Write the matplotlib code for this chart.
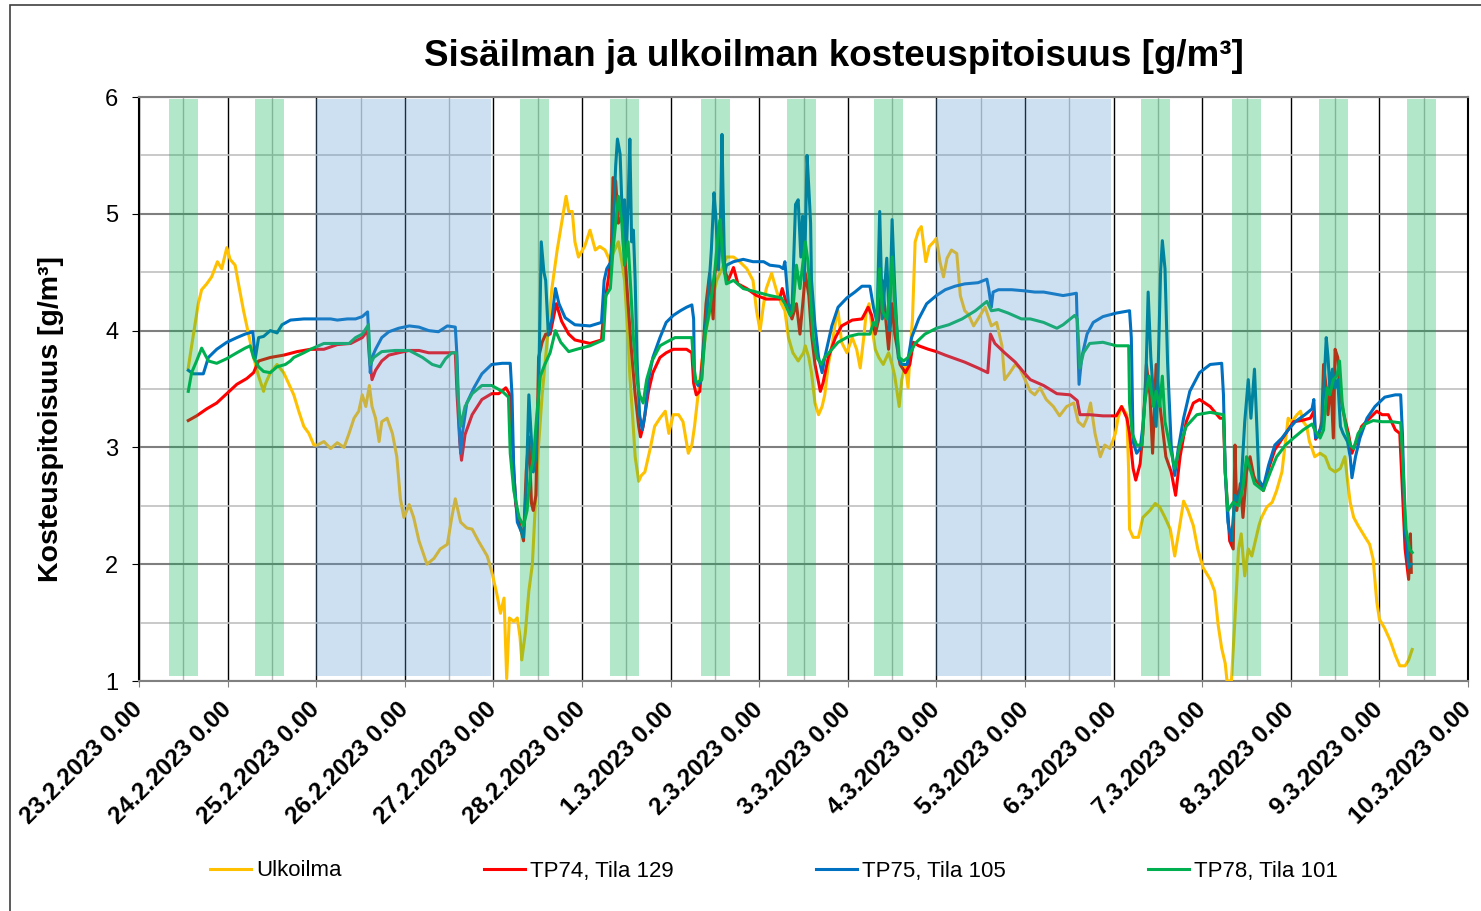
import datetime
import numpy as np
import matplotlib
matplotlib.use('Agg')
import matplotlib.pyplot as plt
from matplotlib.patches import Rectangle

plt.rcParams['font.family'] = ['Liberation Sans', 'DejaVu Sans']

START = datetime.date(2023, 2, 23)
N_DAYS = 15

# working hours (start as day offset from 23.2. 0:00) and weekends
WORK_START = [0.34, 1.31, 4.305, 5.317, 6.345, 7.315, 8.297, 11.308, 12.338, 13.32, 14.31]
WORK_LEN = 0.327
WEEKENDS = [(2.0, 3.97), (9.0, 10.97)]

# (time in days from 23.2.2023 0:00, humidity g/m3)
ULKOILMA = [
    (0.556, 3.68), (0.594, 3.87), (0.669, 4.23), (0.707, 4.35), (0.764, 4.40), (0.820, 4.46),
    (0.885, 4.59), (0.934, 4.53), (0.991, 4.71), (1.028, 4.61), (1.085, 4.56), (1.123, 4.40),
    (1.180, 4.17), (1.236, 3.97), (1.293, 3.77), (1.350, 3.61), (1.406, 3.48), (1.425, 3.54),
    (1.482, 3.64), (1.558, 3.71), (1.633, 3.64), (1.747, 3.45), (1.803, 3.31), (1.860, 3.18),
    (1.917, 3.12), (1.974, 3.02), (2.011, 3.02), (2.087, 3.05), (2.163, 2.99), (2.238, 3.04),
    (2.314, 3.00), (2.371, 3.12), (2.427, 3.25), (2.48, 3.31), (2.52, 3.45), (2.56, 3.35),
    (2.60, 3.53), (2.63, 3.35), (2.67, 3.25), (2.71, 3.05), (2.74, 3.22), (2.80, 3.25),
    (2.86, 3.12), (2.91, 2.92), (2.95, 2.56), (2.99, 2.40), (3.05, 2.51), (3.10, 2.40),
    (3.16, 2.20), (3.25, 2.00), (3.33, 2.05), (3.40, 2.13), (3.48, 2.17), (3.53, 2.40),
    (3.57, 2.56), (3.63, 2.36), (3.70, 2.31), (3.76, 2.30), (3.83, 2.20), (3.93, 2.07),
    (3.98, 1.94), (4.04, 1.74), (4.08, 1.58), (4.12, 1.71), (4.15, 1.02), (4.18, 1.54),
    (4.23, 1.51), (4.27, 1.54), (4.30, 1.38), (4.32, 1.18), (4.36, 1.41), (4.40, 1.77),
    (4.44, 2.00), (4.47, 2.46), (4.51, 3.02), (4.55, 3.45), (4.61, 3.94), (4.66, 4.36),
    (4.72, 4.69), (4.77, 4.92), (4.82, 5.15), (4.85, 5.02), (4.89, 5.02), (4.92, 4.76),
    (4.96, 4.63), (5.03, 4.72), (5.09, 4.86), (5.15, 4.69), (5.20, 4.72), (5.26, 4.69),
    (5.32, 4.59), (5.35, 4.66), (5.41, 4.76), (5.45, 4.59), (5.48, 4.43), (5.52, 3.94),
    (5.54, 3.61), (5.57, 3.28), (5.60, 2.92), (5.64, 2.71), (5.67, 2.76), (5.71, 2.79),
    (5.77, 2.99), (5.82, 3.18), (5.88, 3.25), (5.94, 3.31), (5.98, 3.12), (6.03, 3.28),
    (6.09, 3.28), (6.14, 3.22), (6.20, 2.95), (6.24, 3.02), (6.27, 3.18), (6.31, 3.45),
    (6.35, 3.71), (6.41, 4.04), (6.46, 4.23), (6.52, 4.43), (6.58, 4.53), (6.63, 4.63),
    (6.71, 4.63), (6.78, 4.59), (6.86, 4.53), (6.93, 4.43), (6.97, 4.17), (7.01, 4.00),
    (7.05, 4.23), (7.08, 4.36), (7.14, 4.49), (7.20, 4.33), (7.25, 4.23), (7.29, 4.17),
    (7.33, 3.94), (7.38, 3.81), (7.44, 3.74), (7.50, 3.81), (7.52, 3.87), (7.56, 3.77),
    (7.59, 3.64), (7.63, 3.38), (7.67, 3.28), (7.71, 3.35), (7.74, 3.45), (7.78, 3.71),
    (7.82, 3.87), (7.86, 4.07), (7.89, 4.17), (7.93, 3.90), (7.99, 3.81), (8.05, 3.94),
    (8.10, 3.84), (8.14, 3.68), (8.18, 3.94), (8.21, 4.17), (8.24, 4.23), (8.27, 4.04),
    (8.31, 3.84), (8.35, 3.77), (8.40, 3.71), (8.46, 3.81), (8.50, 3.71), (8.53, 3.61),
    (8.58, 3.35), (8.61, 3.58), (8.65, 3.71), (8.68, 3.51), (8.70, 3.77), (8.73, 4.10),
    (8.76, 4.76), (8.80, 4.86), (8.83, 4.89), (8.88, 4.59), (8.92, 4.72), (8.97, 4.76),
    (9.00, 4.79), (9.04, 4.59), (9.08, 4.46), (9.12, 4.62), (9.17, 4.69), (9.23, 4.66),
    (9.27, 4.30), (9.32, 4.17), (9.36, 4.14), (9.42, 4.04), (9.47, 4.10), (9.55, 4.20),
    (9.62, 4.04), (9.68, 4.07), (9.74, 3.87), (9.77, 3.58), (9.83, 3.64), (9.89, 3.71),
    (9.94, 3.68), (10.00, 3.58), (10.06, 3.48), (10.11, 3.45), (10.17, 3.51), (10.24, 3.41),
    (10.32, 3.35), (10.39, 3.27), (10.47, 3.35), (10.55, 3.38), (10.60, 3.22), (10.66, 3.18),
    (10.70, 3.25), (10.74, 3.38), (10.79, 3.12), (10.85, 2.92), (10.90, 3.02), (10.96, 2.99),
    (11.02, 3.12), (11.05, 3.25), (11.09, 3.35), (11.15, 3.28), (11.17, 2.79), (11.18, 2.30),
    (11.22, 2.23), (11.28, 2.23), (11.33, 2.40), (11.41, 2.46), (11.47, 2.52), (11.52, 2.49),
    (11.58, 2.40), (11.64, 2.30), (11.69, 2.07), (11.74, 2.30), (11.79, 2.54), (11.84, 2.46),
    (11.90, 2.33), (11.95, 2.13), (12.01, 1.97), (12.09, 1.87), (12.14, 1.77), (12.18, 1.48),
    (12.22, 1.28), (12.26, 1.15), (12.28, 1.00), (12.33, 1.00), (12.37, 1.54), (12.41, 2.13),
    (12.44, 2.26), (12.48, 1.90), (12.52, 2.13), (12.56, 2.07), (12.60, 2.20), (12.64, 2.33),
    (12.67, 2.40), (12.73, 2.49), (12.79, 2.53), (12.84, 2.63), (12.90, 2.79), (12.94, 3.05),
    (12.97, 3.25), (13.01, 3.22), (13.07, 3.28), (13.11, 3.31), (13.14, 3.22), (13.18, 3.18),
    (13.21, 3.05), (13.24, 2.99), (13.27, 2.92), (13.33, 2.95), (13.39, 2.92), (13.44, 2.82),
    (13.50, 2.79), (13.56, 2.82), (13.61, 2.92), (13.64, 2.72), (13.67, 2.53), (13.71, 2.40),
    (13.76, 2.33), (13.84, 2.23), (13.89, 2.17), (13.93, 2.04), (13.97, 1.68), (14.00, 1.53),
    (14.06, 1.45), (14.12, 1.35), (14.18, 1.22), (14.23, 1.13), (14.29, 1.13), (14.33, 1.18),
    (14.37, 1.27),
]

TP74 = [
    (0.556, 3.23), (0.65, 3.27), (0.764, 3.33), (0.877, 3.38), (0.991, 3.46), (1.104, 3.54),
    (1.217, 3.59), (1.293, 3.64), (1.35, 3.74), (1.482, 3.77), (1.633, 3.79), (1.784, 3.82),
    (1.936, 3.84), (2.087, 3.84), (2.238, 3.88), (2.39, 3.89), (2.52, 3.94), (2.58, 4.00),
    (2.60, 3.77), (2.63, 3.58), (2.67, 3.66), (2.74, 3.74), (2.82, 3.79), (2.93, 3.81),
    (3.05, 3.83), (3.16, 3.83), (3.27, 3.81), (3.38, 3.81), (3.50, 3.81), (3.57, 3.81),
    (3.59, 3.45), (3.62, 3.05), (3.64, 2.89), (3.68, 3.11), (3.76, 3.28), (3.87, 3.41),
    (3.98, 3.46), (4.06, 3.46), (4.14, 3.51), (4.18, 3.46), (4.21, 3.11), (4.25, 2.52),
    (4.30, 2.33), (4.34, 2.20), (4.37, 2.79), (4.40, 3.09), (4.43, 2.52), (4.45, 2.46),
    (4.48, 2.59), (4.51, 3.77), (4.55, 3.90), (4.59, 3.97), (4.64, 3.97), (4.71, 4.23),
    (4.77, 4.08), (4.85, 3.97), (4.92, 3.92), (5.09, 3.89), (5.22, 3.92), (5.25, 4.20),
    (5.30, 4.46), (5.33, 4.66), (5.35, 5.31), (5.38, 5.28), (5.41, 4.92), (5.45, 4.98),
    (5.48, 4.69), (5.52, 4.23), (5.56, 3.81), (5.60, 3.45), (5.64, 3.18), (5.66, 3.09),
    (5.69, 3.18), (5.75, 3.48), (5.80, 3.64), (5.88, 3.77), (5.95, 3.81), (6.03, 3.84),
    (6.11, 3.84), (6.18, 3.84), (6.24, 3.81), (6.26, 3.55), (6.29, 3.45), (6.33, 3.48),
    (6.36, 3.77), (6.40, 4.23), (6.44, 4.49), (6.48, 4.10), (6.50, 4.49), (6.54, 4.66),
    (6.58, 4.98), (6.61, 4.52), (6.65, 4.43), (6.71, 4.54), (6.76, 4.40), (6.86, 4.36),
    (6.97, 4.30), (7.08, 4.27), (7.23, 4.27), (7.26, 4.36), (7.31, 4.23), (7.37, 4.10),
    (7.42, 4.23), (7.46, 3.97), (7.50, 4.30), (7.52, 4.49), (7.56, 4.30), (7.59, 3.97),
    (7.63, 3.71), (7.69, 3.48), (7.72, 3.55), (7.78, 3.77), (7.86, 3.94), (7.93, 4.04),
    (8.05, 4.09), (8.16, 4.10), (8.23, 4.20), (8.27, 4.13), (8.31, 3.97), (8.35, 4.10),
    (8.39, 4.43), (8.42, 4.17), (8.46, 3.84), (8.50, 4.23), (8.53, 3.97), (8.59, 3.71),
    (8.65, 3.64), (8.70, 3.71), (8.74, 3.90), (8.80, 3.87), (8.91, 3.84), (9.00, 3.82),
    (9.10, 3.79), (9.21, 3.76), (9.32, 3.73), (9.47, 3.68), (9.58, 3.64), (9.61, 3.97),
    (9.66, 3.89), (9.77, 3.81), (9.89, 3.73), (10.00, 3.63), (10.06, 3.58), (10.21, 3.53),
    (10.36, 3.46), (10.51, 3.45), (10.59, 3.40), (10.62, 3.28), (10.73, 3.28), (10.88, 3.27),
    (11.03, 3.27), (11.09, 3.35), (11.15, 3.25), (11.18, 3.12), (11.22, 2.82), (11.25, 2.72),
    (11.30, 2.86), (11.33, 3.12), (11.37, 3.71), (11.41, 3.45), (11.44, 2.95), (11.48, 3.71),
    (11.52, 3.38), (11.56, 3.12), (11.59, 2.92), (11.65, 2.79), (11.70, 2.59), (11.75, 2.92),
    (11.82, 3.22), (11.90, 3.38), (11.97, 3.41), (12.09, 3.35), (12.20, 3.25), (12.24, 3.25),
    (12.26, 2.79), (12.31, 2.20), (12.35, 2.13), (12.37, 3.02), (12.39, 2.46), (12.43, 2.69),
    (12.46, 2.40), (12.50, 2.79), (12.54, 2.92), (12.58, 2.76), (12.60, 2.72), (12.64, 2.69),
    (12.69, 2.63), (12.75, 2.82), (12.82, 2.98), (12.90, 3.07), (12.97, 3.15), (13.03, 3.22),
    (13.12, 3.23), (13.22, 3.25), (13.26, 3.31), (13.28, 3.07), (13.32, 3.12), (13.35, 3.22),
    (13.37, 3.71), (13.40, 3.51), (13.42, 3.28), (13.45, 3.61), (13.48, 3.08), (13.50, 3.84),
    (13.53, 3.77), (13.56, 3.45), (13.59, 3.31), (13.65, 3.12), (13.69, 2.95), (13.74, 3.05),
    (13.80, 3.18), (13.89, 3.25), (13.97, 3.31), (14.03, 3.28), (14.10, 3.28), (14.18, 3.15),
    (14.23, 3.12), (14.25, 2.79), (14.29, 2.13), (14.33, 1.87), (14.35, 2.26), (14.36, 1.93),
]

TP75 = [
    (0.556, 3.66), (0.612, 3.63), (0.726, 3.63), (0.783, 3.77), (0.877, 3.84), (0.991, 3.90),
    (1.104, 3.94), (1.198, 3.97), (1.285, 3.99), (1.312, 3.76), (1.35, 3.94), (1.406, 3.95),
    (1.482, 4.00), (1.558, 3.98), (1.614, 4.05), (1.709, 4.09), (1.860, 4.10), (2.011, 4.10),
    (2.163, 4.10), (2.238, 4.09), (2.352, 4.10), (2.444, 4.10), (2.52, 4.12), (2.58, 4.16),
    (2.59, 4.00), (2.61, 3.64), (2.63, 3.77), (2.67, 3.84), (2.74, 3.94), (2.82, 3.99),
    (2.93, 4.02), (3.05, 4.04), (3.16, 4.03), (3.27, 4.00), (3.38, 3.99), (3.44, 4.02),
    (3.48, 4.04), (3.57, 4.03), (3.59, 3.77), (3.61, 3.25), (3.63, 2.95), (3.65, 3.12),
    (3.70, 3.38), (3.78, 3.51), (3.87, 3.63), (3.98, 3.71), (4.10, 3.72), (4.19, 3.72),
    (4.21, 3.45), (4.23, 2.79), (4.27, 2.36), (4.32, 2.27), (4.34, 2.23), (4.37, 2.63),
    (4.40, 3.45), (4.42, 3.19), (4.45, 2.79), (4.48, 2.92), (4.51, 3.45), (4.54, 4.76),
    (4.57, 4.50), (4.59, 4.43), (4.62, 3.96), (4.66, 4.10), (4.70, 4.36), (4.74, 4.23),
    (4.81, 4.11), (4.92, 4.05), (5.09, 4.04), (5.22, 4.07), (5.25, 4.43), (5.28, 4.53),
    (5.32, 4.58), (5.35, 4.82), (5.38, 5.41), (5.40, 5.64), (5.43, 5.51), (5.45, 5.08),
    (5.47, 4.69), (5.48, 5.12), (5.50, 4.66), (5.52, 5.08), (5.54, 5.64), (5.56, 4.76),
    (5.58, 4.86), (5.60, 4.43), (5.62, 3.77), (5.65, 3.28), (5.68, 3.15), (5.71, 3.28),
    (5.75, 3.58), (5.80, 3.77), (5.88, 3.94), (5.95, 4.07), (6.03, 4.13), (6.11, 4.17),
    (6.18, 4.20), (6.24, 4.22), (6.26, 4.10), (6.27, 3.58), (6.31, 3.53), (6.35, 3.58),
    (6.38, 3.94), (6.42, 4.23), (6.46, 4.69), (6.49, 5.18), (6.51, 4.98), (6.54, 4.52),
    (6.56, 4.82), (6.58, 5.68), (6.59, 5.25), (6.61, 4.49), (6.63, 4.56), (6.71, 4.59),
    (6.82, 4.61), (6.93, 4.59), (7.05, 4.59), (7.12, 4.56), (7.23, 4.55), (7.27, 4.53),
    (7.29, 4.59), (7.33, 4.23), (7.37, 4.17), (7.41, 5.08), (7.44, 5.12), (7.47, 4.63),
    (7.49, 4.98), (7.51, 4.43), (7.54, 5.50), (7.56, 5.22), (7.58, 4.92), (7.59, 4.43),
    (7.63, 4.04), (7.67, 3.77), (7.71, 3.64), (7.74, 3.77), (7.82, 4.04), (7.89, 4.20),
    (7.99, 4.28), (8.08, 4.33), (8.16, 4.38), (8.25, 4.38), (8.29, 4.20), (8.33, 4.07),
    (8.36, 5.02), (8.39, 4.10), (8.44, 4.62), (8.47, 4.00), (8.50, 4.95), (8.53, 4.36),
    (8.57, 3.77), (8.61, 3.71), (8.67, 3.71), (8.72, 3.94), (8.80, 4.10), (8.89, 4.23),
    (9.00, 4.30), (9.10, 4.35), (9.21, 4.38), (9.32, 4.40), (9.47, 4.41), (9.57, 4.44),
    (9.59, 4.36), (9.62, 4.20), (9.64, 4.33), (9.70, 4.35), (9.85, 4.35), (10.00, 4.34),
    (10.11, 4.33), (10.21, 4.33), (10.36, 4.31), (10.43, 4.30), (10.51, 4.31), (10.58, 4.32),
    (10.59, 4.04), (10.61, 3.54), (10.64, 3.77), (10.70, 3.97), (10.77, 4.07), (10.88, 4.12),
    (11.03, 4.15), (11.18, 4.17), (11.20, 3.94), (11.22, 3.05), (11.26, 2.95), (11.30, 2.99),
    (11.33, 3.18), (11.36, 3.45), (11.39, 4.33), (11.42, 3.77), (11.45, 3.45), (11.48, 3.18),
    (11.50, 3.58), (11.53, 4.50), (11.55, 4.77), (11.58, 4.53), (11.61, 3.71), (11.65, 3.02),
    (11.69, 2.76), (11.73, 2.99), (11.79, 3.25), (11.86, 3.48), (11.97, 3.64), (12.09, 3.71),
    (12.22, 3.72), (12.24, 3.45), (12.26, 2.79), (12.29, 2.36), (12.33, 2.20), (12.37, 2.59),
    (12.41, 2.53), (12.44, 2.69), (12.48, 3.22), (12.52, 3.58), (12.55, 3.25), (12.59, 3.67),
    (12.62, 3.12), (12.64, 2.72), (12.69, 2.66), (12.75, 2.85), (12.82, 3.02), (12.90, 3.08),
    (12.97, 3.15), (13.05, 3.22), (13.16, 3.28), (13.24, 3.33), (13.26, 3.41), (13.28, 3.08),
    (13.31, 3.12), (13.35, 3.18), (13.37, 3.45), (13.40, 3.94), (13.42, 3.77), (13.44, 3.51),
    (13.47, 3.67), (13.50, 3.51), (13.53, 3.58), (13.56, 3.18), (13.59, 3.12), (13.64, 3.05),
    (13.67, 2.92), (13.69, 2.74), (13.73, 2.92), (13.78, 3.08), (13.86, 3.25), (13.95, 3.35),
    (14.06, 3.43), (14.18, 3.45), (14.24, 3.45), (14.26, 3.12), (14.29, 2.30), (14.33, 1.97),
    (14.36, 2.00),
]

TP78 = [
    (0.556, 3.48), (0.594, 3.64), (0.650, 3.74), (0.707, 3.85), (0.783, 3.74), (0.877, 3.72),
    (0.991, 3.76), (1.104, 3.81), (1.198, 3.85), (1.255, 3.87), (1.293, 3.77), (1.350, 3.69),
    (1.406, 3.65), (1.482, 3.64), (1.558, 3.69), (1.652, 3.71), (1.709, 3.74), (1.747, 3.77),
    (1.860, 3.81), (1.936, 3.84), (2.087, 3.89), (2.238, 3.89), (2.371, 3.89), (2.444, 3.94),
    (2.52, 3.97), (2.59, 4.05), (2.61, 3.71), (2.65, 3.77), (2.74, 3.82), (2.89, 3.83),
    (3.05, 3.83), (3.20, 3.77), (3.31, 3.71), (3.40, 3.69), (3.46, 3.76), (3.53, 3.81),
    (3.58, 3.81), (3.60, 3.45), (3.63, 3.18), (3.68, 3.35), (3.76, 3.46), (3.87, 3.53),
    (3.98, 3.53), (4.10, 3.48), (4.17, 3.43), (4.19, 2.95), (4.23, 2.63), (4.29, 2.40),
    (4.34, 2.33), (4.38, 2.46), (4.42, 2.79), (4.45, 2.89), (4.49, 3.28), (4.53, 3.61),
    (4.58, 3.71), (4.64, 3.81), (4.70, 4.00), (4.76, 3.90), (4.85, 3.82), (4.94, 3.84),
    (5.09, 3.87), (5.24, 3.92), (5.27, 4.30), (5.32, 4.36), (5.35, 4.69), (5.41, 5.15),
    (5.45, 4.92), (5.48, 4.56), (5.52, 4.76), (5.55, 4.36), (5.58, 3.94), (5.62, 3.58),
    (5.65, 3.45), (5.69, 3.38), (5.73, 3.58), (5.79, 3.74), (5.88, 3.87), (5.95, 3.90),
    (6.05, 3.94), (6.14, 3.94), (6.24, 3.94), (6.26, 3.71), (6.29, 3.55), (6.35, 3.58),
    (6.39, 3.97), (6.44, 4.17), (6.50, 4.52), (6.54, 4.86), (6.56, 4.95), (6.59, 4.59),
    (6.63, 4.40), (6.71, 4.43), (6.82, 4.36), (6.97, 4.33), (7.12, 4.30), (7.25, 4.28),
    (7.29, 4.23), (7.35, 4.13), (7.38, 4.17), (7.42, 4.56), (7.46, 4.36), (7.50, 4.63),
    (7.52, 4.76), (7.55, 4.59), (7.58, 4.27), (7.61, 3.94), (7.65, 3.77), (7.70, 3.71),
    (7.74, 3.77), (7.82, 3.84), (7.89, 3.90), (8.01, 3.95), (8.12, 3.97), (8.25, 3.97),
    (8.29, 4.07), (8.32, 4.04), (8.36, 4.53), (8.39, 4.17), (8.44, 4.10), (8.48, 4.36),
    (8.50, 4.63), (8.53, 4.23), (8.58, 3.77), (8.63, 3.74), (8.68, 3.77), (8.76, 3.89),
    (8.87, 3.97), (9.00, 4.02), (9.14, 4.05), (9.29, 4.10), (9.44, 4.17), (9.57, 4.25),
    (9.62, 4.17), (9.70, 4.18), (9.81, 4.15), (9.96, 4.10), (10.06, 4.10), (10.21, 4.07),
    (10.36, 4.02), (10.43, 4.05), (10.56, 4.13), (10.59, 4.10), (10.62, 3.68), (10.66, 3.81),
    (10.73, 3.89), (10.88, 3.90), (11.03, 3.87), (11.17, 3.87), (11.18, 3.38), (11.21, 3.12),
    (11.26, 3.02), (11.32, 3.02), (11.35, 3.38), (11.40, 3.61), (11.45, 3.35), (11.48, 3.48),
    (11.52, 3.35), (11.55, 3.61), (11.58, 3.22), (11.64, 2.99), (11.69, 2.82), (11.75, 3.02),
    (11.82, 3.18), (11.94, 3.28), (12.09, 3.30), (12.24, 3.28), (12.26, 2.79), (12.29, 2.46),
    (12.35, 2.53), (12.41, 2.50), (12.46, 2.66), (12.50, 2.92), (12.54, 2.82), (12.59, 2.69),
    (12.69, 2.63), (12.77, 2.79), (12.84, 2.92), (12.94, 3.02), (13.03, 3.08), (13.14, 3.15),
    (13.24, 3.20), (13.27, 3.15), (13.33, 3.08), (13.37, 3.15), (13.41, 3.51), (13.44, 3.45),
    (13.48, 3.58), (13.52, 3.61), (13.55, 3.74), (13.58, 3.38), (13.62, 3.18), (13.67, 3.02),
    (13.71, 2.99), (13.76, 3.12), (13.84, 3.20), (13.93, 3.23), (14.03, 3.22), (14.14, 3.22),
    (14.24, 3.21), (14.27, 2.79), (14.30, 2.30), (14.34, 2.13), (14.37, 2.10),
]

NAMES = ['Ulkoilma', 'TP74, Tila 129', 'TP75, Tila 105', 'TP78, Tila 101']
COLORS = ['#FFC000', '#FF0000', '#0070C0', '#00B050']

fig = plt.figure(figsize=(14.81, 9.11), dpi=100)
ax = fig.add_axes([139 / 1481, 1 - 681 / 911, 1329 / 1481, 584 / 911])

lines = []
for name, data, col in zip(NAMES, [ULKOILMA, TP74, TP75, TP78], COLORS):
    t, v = zip(*data)
    ln, = ax.plot(t, v, color=col, lw=2.2, label=name, zorder=3)
    lines.append(ln)

# shaded working hours and weekends on top of the lines
for s in WORK_START:
    ax.axvspan(s, s + WORK_LEN, ymin=0.008, ymax=0.996, color='#00B050',
               alpha=0.3, lw=0, zorder=4)
for a, b in WEEKENDS:
    ax.axvspan(a, b, ymin=0.008, ymax=0.996, color='#5B9BD5',
               alpha=0.3, lw=0, zorder=4)

ax.set_xlim(0, N_DAYS)
ax.set_ylim(1, 6)
ax.set_xticks(range(N_DAYS + 1))
ax.set_xticks(np.arange(0.5, N_DAYS, 1), minor=True)
ax.set_yticks(range(1, 7))
ax.set_yticks(np.arange(1.5, 6, 1), minor=True)

labels = []
for i in range(N_DAYS + 1):
    d = START + datetime.timedelta(days=i)
    labels.append('%d.%d.%d 0.00' % (d.day, d.month, d.year))
ax.set_xticklabels(labels, rotation=45, ha='right', va='center',
                   rotation_mode='anchor', fontsize=17.5, fontweight='bold')
ax.tick_params(axis='x', which='major', length=4, pad=14, color='#808080')
ax.tick_params(axis='x', which='minor', length=0)
ax.tick_params(axis='y', which='major', length=5, pad=10, labelsize=17)
ax.tick_params(axis='y', which='minor', length=0)

ax.grid(which='major', axis='x', color='black', lw=1.0)
ax.grid(which='minor', axis='x', color='#b8b8b8', lw=1.0)
ax.grid(which='major', axis='y', color='#7f7f7f', lw=1.5)
ax.grid(which='minor', axis='y', color='#c0c0c0', lw=1.2)

ax.spines['left'].set_color('black')
ax.spines['left'].set_linewidth(1.5)
ax.spines['right'].set_color('black')
ax.spines['right'].set_linewidth(1.5)
ax.spines['top'].set_color('#808080')
ax.spines['top'].set_linewidth(1.5)
ax.spines['bottom'].set_color('#808080')
ax.spines['bottom'].set_linewidth(1.5)

ax.set_ylabel('Kosteuspitoisuus [g/m³]', fontsize=20.5, fontweight='bold')
ax.yaxis.set_label_coords(-0.0564, 0.448)

fig.text(834 / 1481, 1 - 57 / 911, 'Sisäilman ja ulkoilman kosteuspitoisuus [g/m³]',
         ha='center', va='center', fontsize=26.5, fontweight='bold')

fig.legend(handles=lines, loc='center', bbox_to_anchor=(774 / 1481, 1 - 871 / 911),
           ncol=4, frameon=False, fontsize=16, handlelength=1.85,
           handletextpad=0.22, columnspacing=6.4)

# chart area border
fig.patches.append(Rectangle((10 / 1481, -0.05), 2, 1 - 5 / 911 + 0.05,
                             transform=fig.transFigure, fill=False,
                             edgecolor='#404040', lw=1.2))

plt.savefig('out.png', dpi=100)
